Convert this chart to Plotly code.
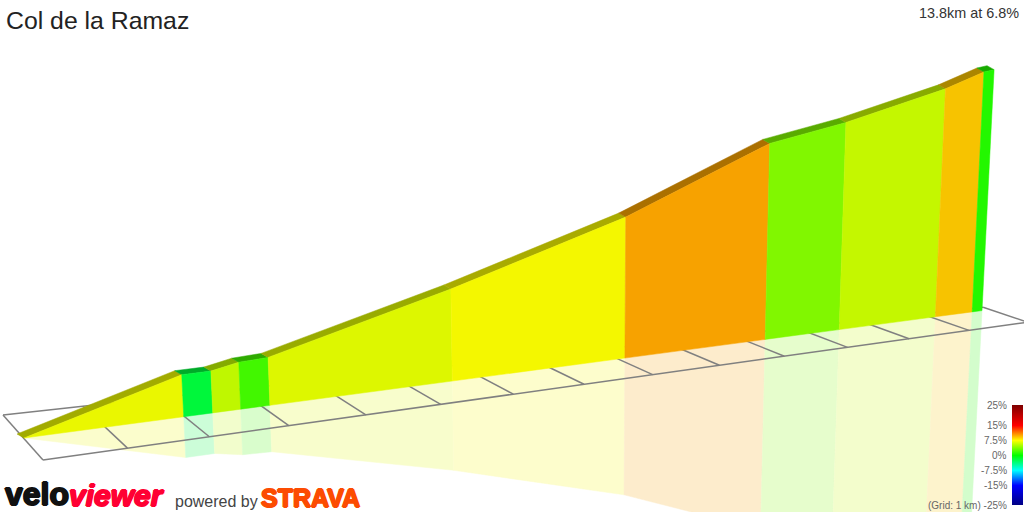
import numpy as np
import plotly.graph_objects as go

# ---------- data ----------
title_text = "Col de la Ramaz"
summary_text = "13.8km at 6.8%"
km_marks = [0.0, 1.97, 2.34, 2.70, 3.08, 5.55, 8.05, 10.21, 11.4, 13.0, 13.63, 13.8]
elevation_gain_m = [0, 140, 140, 158, 162, 322, 510, 729, 782, 878, 931, 937]
segment_grade_pct = [7.1, -1.8, 5.8, 2.0, 6.7, 7.4, 10.1, 3.9, 5.95, 9.1, 1.06]
grid_km = list(range(0, 15))
scale_grades = [25, 15, 7.5, 0, -7.5, -15, -25]
scale_labels = ["25%", "15%", "7.5%", "0%", "-7.5%", "-15%", "(Grid: 1 km) -25%"]
scale_colors = ["#800000", "#ff0000", "#ffff00", "#00ff00", "#00ffff", "#0000ff", "#000080"]

# ---------- view (perspective calibration) ----------
WALL = dict(a=83.78, x0=24.0, c=0.01462, y0=438.0, slope=-0.133)
FRONT = dict(a=86.47, x0=43.0, c=0.01572, y0=460.0, slope=-0.14)
BACK = dict(a=80.92, x0=3.0, c=0.0111, y0=415.0, slope=-0.11)
PX_PER_M = 0.309
LEAN = 0.000123
LEAN_X0 = 575.0
MIRROR = 0.97
CAP_DX, CAP_DY = -7.0, -4.0
SHADE = 0.97
CAP_SHADE = 0.67
REFLECT_ALPHA = 0.2
GRID_COLOR = "#808080"
FONT = "Liberation Sans, Arial, sans-serif"


def ground(d, line):
    x = (line["a"] * d + line["x0"]) / (1 + line["c"] * d)
    return x, line["y0"] + line["slope"] * (x - line["x0"])


def wall_points(d, h):
    bx, by = ground(d, WALL)
    px = PX_PER_M * h / (1 + WALL["c"] * d)
    dx = LEAN * (bx - LEAN_X0) * px
    return (bx, by), (bx + dx, by - px), (bx - dx, by + MIRROR * px)


def grade_rgb(g):
    vals = scale_grades[::-1]
    cols = [tuple(int(c[i:i + 2], 16) for i in (1, 3, 5)) for c in scale_colors[::-1]]
    return tuple(float(np.interp(g, vals, [c[k] for c in cols])) for k in range(3))


def css(rgb):
    return "rgb(%d,%d,%d)" % tuple(round(v) for v in rgb)


def poly(xs, ys, color):
    return go.Scatter(x=xs + xs[:1], y=ys + ys[:1], mode="lines", fill="toself",
                      fillcolor=color, line=dict(color=color, width=0.5),
                      hoverinfo="skip", showlegend=False)


fig = go.Figure()
pts = [wall_points(d, h) for d, h in zip(km_marks, elevation_gain_m)]

# reflection
for i, g in enumerate(segment_grade_pct):
    rgb = grade_rgb(g)
    c = css(tuple(255 + REFLECT_ALPHA * (SHADE * v - 255) for v in rgb))
    (b0, _, m0), (b1, _, m1) = pts[i], pts[i + 1]
    fig.add_trace(poly([b0[0], b1[0], m1[0], m0[0]], [b0[1], b1[1], m1[1], m0[1]], c))

# ground grid
gx, gy = [], []
for d in grid_km:
    p, q = ground(d, BACK), ground(d, FRONT)
    gx += [p[0], q[0], None]
    gy += [p[1], q[1], None]
for line in (BACK, FRONT):
    p, q = ground(grid_km[0], line), ground(grid_km[-1], line)
    gx += [p[0], q[0], None]
    gy += [p[1], q[1], None]
fig.add_trace(go.Scatter(x=gx, y=gy, mode="lines", line=dict(color=GRID_COLOR, width=1.5),
                         hoverinfo="skip", showlegend=False))

# wall cap then wall face
for i, g in enumerate(segment_grade_pct):
    rgb = grade_rgb(g)
    t0, t1 = pts[i][1], pts[i + 1][1]
    fig.add_trace(poly([t0[0], t1[0], t1[0] + CAP_DX, t0[0] + CAP_DX],
                       [t0[1], t1[1], t1[1] + CAP_DY, t0[1] + CAP_DY],
                       css(tuple(CAP_SHADE * v for v in rgb))))
for i, g in enumerate(segment_grade_pct):
    rgb = grade_rgb(g)
    (b0, t0, _), (b1, t1, _) = pts[i], pts[i + 1]
    fig.add_trace(poly([b0[0], b1[0], t1[0], t0[0]], [b0[1], b1[1], t1[1], t0[1]],
                       css(tuple(SHADE * v for v in rgb))))

# gradient scale
scale_rows = np.arange(25, -25, -0.5)
lo, hi = scale_grades[-1], scale_grades[0]
colorscale = [[(v - lo) / (hi - lo), c] for v, c in zip(scale_grades[::-1], scale_colors[::-1])]
fig.add_trace(go.Heatmap(z=[[v] for v in scale_rows], x0=1017.5, dx=11, y0=405.5, dy=1,
                         colorscale=colorscale, zmin=lo, zmax=hi, showscale=False,
                         hoverinfo="skip"))


def label(x, y, text, size, color, anchor="left", weight="normal", **font):
    fig.add_annotation(x=x, y=y, text=text, showarrow=False, xref="x", yref="y",
                       xanchor=anchor, yanchor="middle", borderpad=0, borderwidth=0,
                       font=dict(family=FONT, size=size, color=color, weight=weight, **font))


def thick(color):
    return ", ".join("%s %s 0 %s" % (a, b, color)
                     for a, b in (("1px", "0"), ("-1px", "0"), ("0", "1px"), ("0", "-1px")))


for g, t in zip(scale_grades, scale_labels):
    label(1007, 455 - 2 * g, t, 10, "#666666", anchor="right")

label(6, 20, title_text, 24.8, "#222222")
label(1019, 13, summary_text, 14.4, "#333333", anchor="right")
label(5, 494, "velo", 32, "#111111", weight="bold", shadow=thick("#111111"))
label(69, 495, "viewer", 30, "#ff0033", weight="bold", style="italic", shadow=thick("#ff0033"))
label(175, 501, "powered by", 16, "#444444")
label(261, 498, "STRAVA", 25, "#fc4c02", weight="bold", shadow=thick("#fc4c02"))

fig.update_layout(width=1024, height=512, margin=dict(l=0, r=0, t=0, b=0),
                  paper_bgcolor="white", plot_bgcolor="white", showlegend=False,
                  xaxis=dict(range=[0, 1024], visible=False, fixedrange=True),
                  yaxis=dict(range=[512, 0], visible=False, fixedrange=True))
fig.write_html("out.html", config={"displayModeBar": False},
               post_script="document.body.style.margin='0';document.body.style.overflow='hidden';")
